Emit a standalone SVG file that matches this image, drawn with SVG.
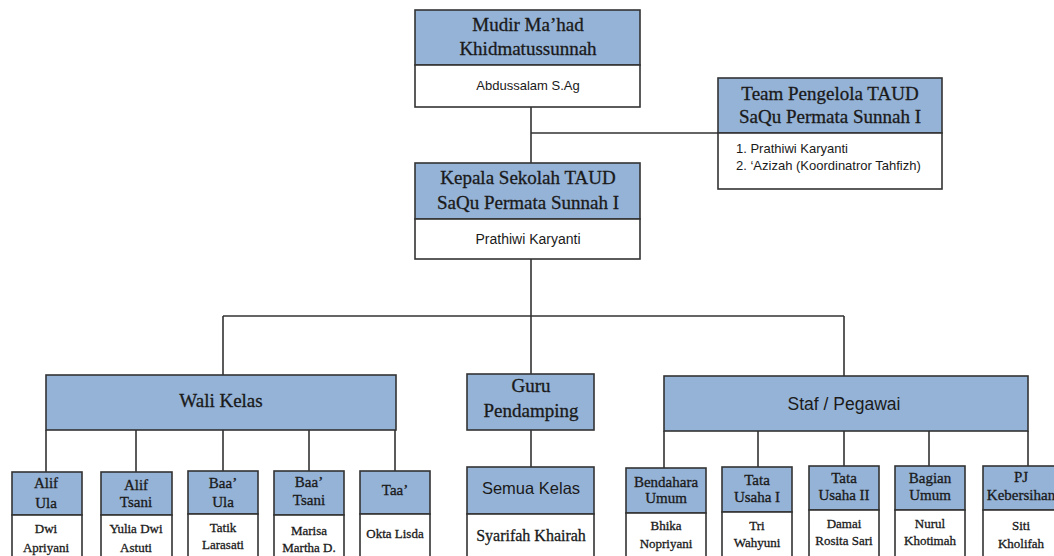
<svg xmlns="http://www.w3.org/2000/svg" width="1054" height="556" viewBox="0 0 1054 556">
<style>
.hd{fill:#95B3D7;stroke:#333;stroke-width:1.6}
.bd{fill:#fff;stroke:#333;stroke-width:1.6}
.ln{stroke:#333;stroke-width:1.6;fill:none}
.sf{font-family:"Liberation Serif","DejaVu Serif",serif;fill:#1a1a1a;stroke:#1a1a1a;stroke-width:0.3;text-anchor:middle}
.ss{font-family:"Liberation Sans","DejaVu Sans",sans-serif;fill:#1a1a1a;text-anchor:middle}
.big{font-size:19px}
.mid{font-size:15px}
.sm{font-size:13px}
</style>
<rect width="1054" height="556" fill="#fff"/>
<g id="connectors" class="ln">
<path d="M531 107V163M531 133H718M531 259V316M223 316H844M223 316V375M531 316V374M844 316V376"/>
<path d="M46 430V472M136 430V472M223 430V471M309 430V471M395 430V471"/>
<path d="M531 430V467"/>
<path d="M664 431V468M758 431V467M844 431V466M929 431V466M1028 431V466"/>
</g>
<g id="mudir">
<rect class="hd" x="415" y="10" width="225" height="55"/>
<rect class="bd" x="415" y="65" width="225" height="42"/>
<text class="sf big" x="528" y="31">Mudir Ma’had</text>
<text class="sf big" x="528" y="55">Khidmatussunnah</text>
<text class="ss sm" x="528" y="90">Abdussalam S.Ag</text>
</g>
<g id="team">
<rect class="hd" x="718" y="78" width="224" height="55"/>
<rect class="bd" x="718" y="133" width="224" height="56"/>
<text class="sf big" x="830" y="100">Team Pengelola TAUD</text>
<text class="sf big" x="830" y="123">SaQu Permata Sunnah I</text>
<text class="ss sm" x="736" y="153" style="text-anchor:start">1. Prathiwi Karyanti</text>
<text class="ss sm" x="736" y="170" style="text-anchor:start">2. ‘Azizah (Koordinatror Tahfizh)</text>
</g>
<g id="kepala">
<rect class="hd" x="415" y="163" width="225" height="56"/>
<rect class="bd" x="415" y="219" width="225" height="40"/>
<text class="sf big" x="528" y="184">Kepala Sekolah TAUD</text>
<text class="sf big" x="528" y="209">SaQu Permata Sunnah I</text>
<text class="ss" x="528" y="244" font-size="14">Prathiwi Karyanti</text>
</g>
<g id="wali-kelas">
<rect class="hd" x="46" y="375" width="350" height="55"/>
<text class="sf big" x="221" y="407">Wali Kelas</text>
</g>
<g id="guru-pendamping">
<rect class="hd" x="467" y="374" width="127" height="56"/>
<text class="sf big" x="531" y="392">Guru</text>
<text class="sf big" x="531" y="417">Pendamping</text>
</g>
<g id="staf">
<rect class="hd" x="664" y="376" width="364" height="55"/>
<text class="ss" x="844" y="410" font-size="17.5">Staf / Pegawai</text>
</g>
<g id="alif-ula">
<rect class="hd" x="12" y="472" width="70" height="43"/>
<rect class="bd" x="12" y="515" width="70" height="45"/>
<text class="sf mid" x="46" y="488">Alif</text>
<text class="sf mid" x="46" y="508">Ula</text>
<text class="sf sm" x="46" y="533">Dwi</text>
<text class="sf sm" x="46" y="552">Apriyani</text>
</g>
<g id="alif-tsani">
<rect class="hd" x="101" y="472" width="71" height="43"/>
<rect class="bd" x="101" y="515" width="71" height="45"/>
<text class="sf mid" x="136" y="490">Alif</text>
<text class="sf mid" x="136" y="507">Tsani</text>
<text class="sf sm" x="136" y="533">Yulia Dwi</text>
<text class="sf sm" x="136" y="552">Astuti</text>
</g>
<g id="baa-ula">
<rect class="hd" x="188" y="471" width="70" height="43"/>
<rect class="bd" x="188" y="514" width="70" height="46"/>
<text class="sf mid" x="223" y="488">Baa’</text>
<text class="sf mid" x="223" y="507">Ula</text>
<text class="sf sm" x="223" y="532">Tatik</text>
<text class="sf sm" x="223" y="549">Larasati</text>
</g>
<g id="baa-tsani">
<rect class="hd" x="274" y="471" width="70" height="44"/>
<rect class="bd" x="274" y="515" width="70" height="45"/>
<text class="sf mid" x="309" y="487">Baa’</text>
<text class="sf mid" x="309" y="505">Tsani</text>
<text class="sf sm" x="309" y="535">Marisa</text>
<text class="sf sm" x="309" y="552">Martha D.</text>
</g>
<g id="taa">
<rect class="hd" x="360" y="471" width="70" height="43"/>
<rect class="bd" x="360" y="514" width="70" height="46"/>
<text class="sf mid" x="395" y="495">Taa’</text>
<text class="sf sm" x="395" y="538">Okta Lisda</text>
</g>
<g id="semua-kelas">
<rect class="hd" x="467" y="467" width="127" height="47"/>
<rect class="bd" x="467" y="514" width="127" height="46"/>
<text class="ss" x="531" y="494" font-size="16.5">Semua Kelas</text>
<text class="sf" x="531" y="541" font-size="16">Syarifah Khairah</text>
</g>
<g id="bendahara">
<rect class="hd" x="626" y="468" width="80" height="45"/>
<rect class="bd" x="626" y="513" width="80" height="47"/>
<text class="sf mid" x="666" y="487">Bendahara</text>
<text class="sf mid" x="666" y="503">Umum</text>
<text class="sf sm" x="666" y="530">Bhika</text>
<text class="sf sm" x="666" y="548">Nopriyani</text>
</g>
<g id="tata-usaha-1">
<rect class="hd" x="722" y="467" width="70" height="45"/>
<rect class="bd" x="722" y="512" width="70" height="48"/>
<text class="sf mid" x="757" y="485">Tata</text>
<text class="sf mid" x="757" y="502">Usaha I</text>
<text class="sf sm" x="757" y="530">Tri</text>
<text class="sf sm" x="757" y="547">Wahyuni</text>
</g>
<g id="tata-usaha-2">
<rect class="hd" x="809" y="466" width="70" height="44"/>
<rect class="bd" x="809" y="510" width="70" height="50"/>
<text class="sf mid" x="844" y="483">Tata</text>
<text class="sf mid" x="844" y="500">Usaha II</text>
<text class="sf sm" x="844" y="528">Damai</text>
<text class="sf sm" x="844" y="545">Rosita Sari</text>
</g>
<g id="bagian-umum">
<rect class="hd" x="895" y="466" width="70" height="44"/>
<rect class="bd" x="895" y="510" width="70" height="50"/>
<text class="sf mid" x="930" y="483">Bagian</text>
<text class="sf mid" x="930" y="500">Umum</text>
<text class="sf sm" x="930" y="528">Nurul</text>
<text class="sf sm" x="930" y="545">Khotimah</text>
</g>
<g id="pj-kebersihan">
<rect class="hd" x="983" y="466" width="90" height="44"/>
<rect class="bd" x="983" y="510" width="90" height="50"/>
<text class="sf mid" x="1021" y="482">PJ</text>
<text class="sf mid" x="1021" y="500">Kebersihan</text>
<text class="sf sm" x="1021" y="530">Siti</text>
<text class="sf sm" x="1021" y="548">Kholifah</text>
</g>
</svg>
